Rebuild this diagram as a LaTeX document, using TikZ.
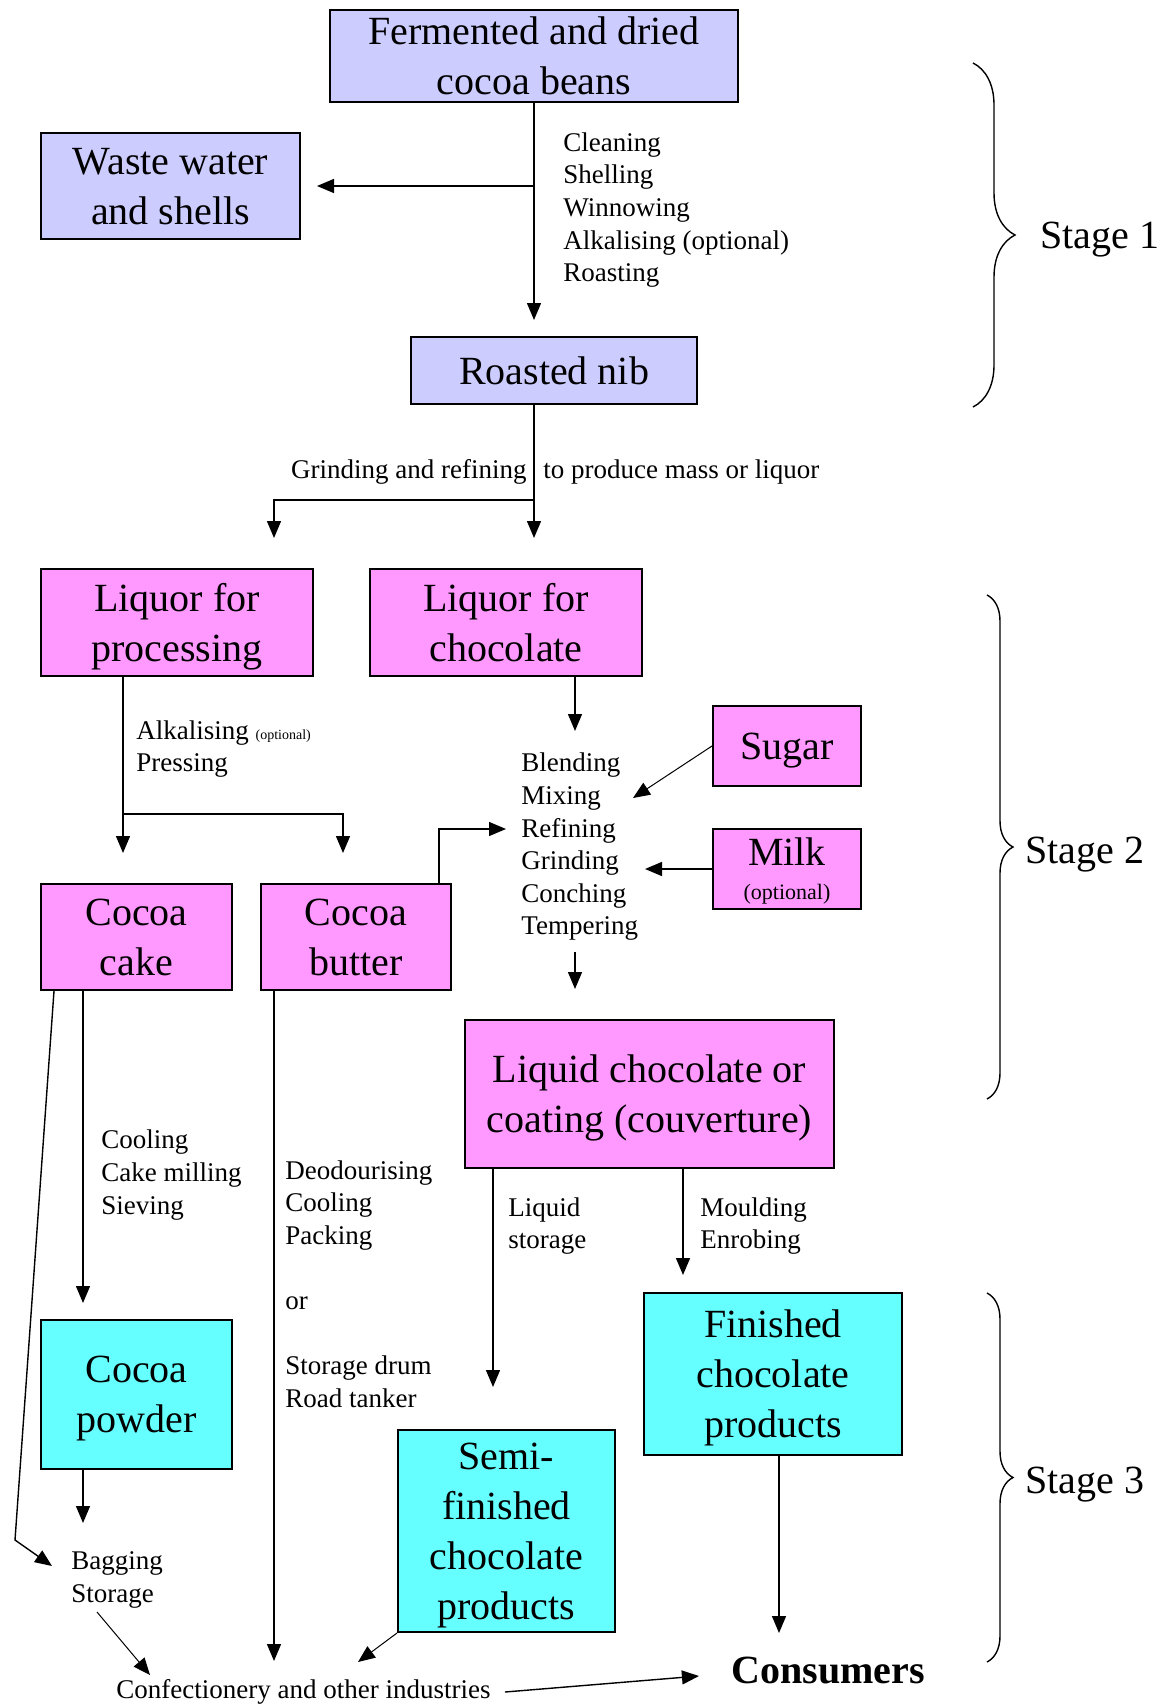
\documentclass[tikz,border=0pt]{standalone}
\usepackage{fontspec}
\setmainfont{Liberation Serif}
\usetikzlibrary{arrows.meta, positioning, calc, decorations.pathreplacing}
\definecolor{BeanBlue}{RGB}{204,204,255}
\definecolor{LiquorPink}{RGB}{255,153,255}
\definecolor{ProductCyan}{RGB}{102,255,255}

\begin{document}
\begin{tikzpicture}[x=0.5pt, y=-0.5pt,
	procbox/.style={rectangle, draw=black, line width=1pt, align=center, inner sep=2pt, text depth=0pt, font=\fontsize{20}{25}\selectfont},
	note/.style={align=left, inner sep=0pt, anchor=west, font=\fontsize{13.5}{16.3}\selectfont},
	flow/.style={-{Triangle[length=8.5pt,width=7pt]}, line width=0.7pt},
	stagebrace/.style={decorate, decoration={brace, amplitude=#1}, line width=0.7pt}]
	\useasboundingbox (0,0) rectangle (1160,1707);
	% stage 1
	\node[procbox, fill=BeanBlue, minimum width=204pt, minimum height=46pt] (beans) at (534,56) {Fermented and dried\\cocoa beans};
	\node[procbox, fill=BeanBlue, minimum width=129.5pt, minimum height=53pt] (waste) at (170.5,186) {Waste water\\and shells};
	\node[procbox, fill=BeanBlue, minimum width=143pt, minimum height=33.5pt] (nib) at (554,370.5) {Roasted nib};
	\node[note] (cleaning) at (563,210) {Cleaning\\Shelling\\Winnowing\\Alkalising (optional)\\Roasting};
	\node[note, anchor=east] (grindA) at (527,472) {Grinding and refining};
	\node[note] (grindB) at (543,472) {to produce mass or liquor};
	% stage 2
	\node[procbox, fill=LiquorPink, minimum width=136pt, minimum height=53.5pt] (liqproc) at (177,622.5) {Liquor for\\processing};
	\node[procbox, fill=LiquorPink, minimum width=136pt, minimum height=53.5pt] (liqchoc) at (506,622.5) {Liquor for\\chocolate};
	\node[procbox, fill=LiquorPink, minimum width=74pt, minimum height=40pt] (sugar) at (787,746) {Sugar};
	\node[procbox, fill=LiquorPink, minimum width=74pt, minimum height=40pt] (milk) at (787,869) {Milk\\[-8pt]{\fontsize{11}{13}\selectfont(optional)}};
	\node[procbox, fill=LiquorPink, minimum width=95.5pt, minimum height=53pt] (cake) at (136.5,937) {Cocoa\\cake};
	\node[procbox, fill=LiquorPink, minimum width=95pt, minimum height=53pt] (butter) at (356,937) {Cocoa\\butter};
	\node[procbox, fill=LiquorPink, minimum width=184.5pt, minimum height=74pt] (liquid) at (649.5,1094) {Liquid chocolate or\\coating (couverture)};
	\node[note] (pressing) at (136,749) {Alkalising {\fontsize{7}{8}\selectfont(optional)}\\Pressing};
	\node[note] (mixing) at (521,847) {Blending\\Mixing\\Refining\\Grinding\\Conching\\Tempering};
	% stage 3
	\node[procbox, fill=ProductCyan, minimum width=95.5pt, minimum height=74.5pt] (powder) at (136.5,1394.5) {Cocoa\\powder};
	\node[procbox, fill=ProductCyan, minimum width=129pt, minimum height=81pt] (finished) at (773,1374) {Finished\\chocolate\\products};
	\node[procbox, fill=ProductCyan, minimum width=108.5pt, minimum height=101pt] (semi) at (506.5,1531) {Semi-\\finished\\chocolate\\products};
	\node[note] (cakesteps) at (101,1175) {Cooling\\Cake milling\\Sieving};
	\node[note] (buttersteps) at (285,1284) {Deodourising\\Cooling\\Packing\\[16.3pt]or\\[16.3pt]Storage drum\\Road tanker};
	\node[note] (liqstore) at (508,1226) {Liquid\\storage};
	\node[note] (moulding) at (700,1226) {Moulding\\Enrobing};
	\node[note] (bagging) at (71,1580) {Bagging\\Storage};
	\node[note, anchor=center] (industries) at (303.5,1692) {Confectionery and other industries};
	\node[inner sep=0pt, font=\fontsize{20}{25}\selectfont\bfseries] (consumers) at (828,1670) {Consumers};
	% free ends
	\coordinate (split) at (534,500);
	\coordinate (presssplit) at (123,814);
	\coordinate (mixtop) at (575,731);
	\coordinate (mixout) at (575,952);
	\coordinate (sugarin) at (633,798);
	\coordinate (milkin) at (645,869);
	\coordinate (butterin) at (506,829);
	\coordinate (bend) at (15,1540);
	\coordinate (baggin) at (52,1566);
	\coordinate (powout) at (83,1523);
	\coordinate (bagout) at (97,1612);
	\coordinate (indA) at (150,1675);
	\coordinate (indB) at (274,1661);
	\coordinate (indC) at (358,1662);
	\coordinate (liqout) at (493,1387);
	\coordinate (consin) at (779,1633);
	% connectors
	\draw[flow, shorten >=8pt] (beans.south) -- (beans.south |- nib.north);
	\draw[flow, shorten >=8pt] (beans.south |- waste.east) -- (waste.east);
	\draw[flow, shorten >=15pt] (beans.south |- nib.south) -- (beans.south |- liqchoc.north);
	\draw[flow, shorten >=15pt] (split) -| ([xshift=48.5pt]liqproc.north);
	\draw[flow, shorten >=15pt] ([xshift=-27pt]liqproc.south) -- ([xshift=-27pt]liqproc.south |- cake.north);
	\draw[flow, shorten >=15pt] (presssplit) -| ([xshift=-6.5pt]butter.north);
	\draw[flow] ([xshift=34.5pt]liqchoc.south) -- (mixtop);
	\draw[flow, line width=0.5pt] (sugar.west) -- (sugarin);
	\draw[flow] (milk.west) -- (milkin);
	\draw[flow] ([xshift=41.5pt]butter.north) |- (butterin);
	\draw[flow, shorten >=15pt] (mixout) -- (mixout |- liquid.north);
	\draw[flow, shorten >=8pt] ([xshift=-26.75pt]cake.south) -- ([xshift=-26.75pt]cake.south |- powder.north);
	\draw[flow] ([xshift=-41.25pt]cake.south) -- (bend) -- (baggin);
	\draw[flow] ([xshift=-26.75pt]powder.south) -- (powout);
	\draw[flow, line width=0.5pt] (bagout) -- (indA);
	\draw[flow] ([xshift=-41pt]butter.south) -- (indB);
	\draw[flow, line width=0.5pt] (semi.south west) -- (indC);
	\draw[flow] ([xshift=-78.25pt]liquid.south) -- (liqout);
	\draw[flow, shorten >=8.5pt] ([xshift=16.75pt]liquid.south) -- ([xshift=16.75pt]liquid.south |- finished.north);
	\draw[flow] ([xshift=3pt]finished.south) -- (consin);
	\draw[flow] ([xshift=7pt]industries.east) -- ([xshift=-16pt, yshift=-3pt]consumers.west);
	% stages
	\draw[stagebrace=21pt] (973,63) -- (973,407);
	\draw[stagebrace=13pt] (987,595) -- (987,1099);
	\draw[stagebrace=13pt] (987,1293) -- (987,1662);
	\node[note, font=\fontsize{20}{25}\selectfont] (stage1) at (1040,240) {Stage 1};
	\node[note, font=\fontsize{20}{25}\selectfont] (stage2) at (1025,855) {Stage 2};
	\node[note, font=\fontsize{20}{25}\selectfont] (stage3) at (1025,1485) {Stage 3};
\end{tikzpicture}
\end{document}
